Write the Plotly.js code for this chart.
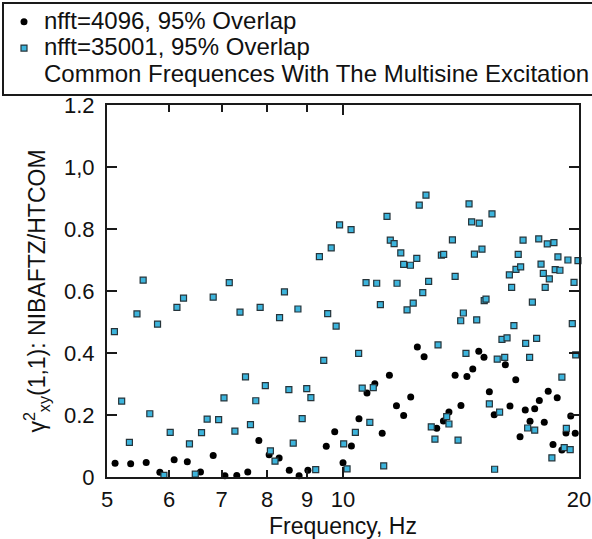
<!DOCTYPE html>
<html>
<head>
<meta charset="utf-8">
<script src="https://cdn.plot.ly/plotly-3.0.1.min.js"></script>
<style>
  html, body { margin: 0; padding: 0; background: #fff; }
  #chart { width: 592px; height: 539px; }
</style>
</head>
<body>
<div id="chart"></div>
<script>
// Series 1: nfft=4096, 95% Overlap (black dots)
const freqA = [5.12,5.36,5.61,5.84,6.09,6.33,6.58,6.83,7.07,7.32,
  7.56,7.81,8.05,8.29,8.54,8.79,9.02,9.52,9.76,10.0,
  10.25,10.48,10.73,10.98,11.22,11.46,11.70,11.95,12.20,12.44,
  12.69,13.17,13.43,13.65,13.90,14.14,14.39,14.64,14.90,15.13,
  15.37,15.59,16.11,16.33,16.61,16.82,17.08,17.32,17.56,17.80,
  18.06,18.27,18.53,18.76,19.02,19.25,19.52,19.78];
const cohA = [0.044,0.043,0.047,0.015,0.056,0.049,0.016,0.069,0.004,0.005,
  0.016,0.118,0.072,0.061,0.022,0.004,0.022,0.099,0.146,0.046,
  0.100,0.188,0.271,0.301,0.141,0.328,0.230,0.198,0.258,0.419,
  0.388,0.157,0.181,0.210,0.328,0.231,0.324,0.348,0.406,0.386,
  0.275,0.201,0.362,0.229,0.314,0.130,0.216,0.180,0.220,0.247,
  0.177,0.277,0.105,0.256,0.087,0.142,0.197,0.141];

// Series 2: nfft=35001, 95% Overlap (cyan squares)
const freqB = [5.11,5.22,5.34,5.46,5.56,5.67,5.80,5.91,6.02,6.14,
  6.26,6.37,6.48,6.60,6.71,6.83,6.94,7.05,7.16,7.28,
  7.39,7.51,7.62,7.74,7.84,7.96,8.08,8.19,8.30,8.42,
  8.53,8.64,8.76,8.87,8.99,9.10,9.23,9.33,9.45,9.56,
  9.66,9.80,9.90,10.02,10.12,10.24,10.37,10.47,10.58,10.70,
  10.82,10.93,11.04,11.16,11.27,11.38,11.49,11.62,11.72,11.85,
  11.95,12.07,12.19,12.29,12.42,12.51,12.64,12.76,12.86,12.96,
  13.10,13.22,13.35,13.44,13.56,13.65,13.79,13.90,14.02,14.13,
  14.24,14.35,14.48,14.59,14.71,14.81,14.92,15.04,15.14,15.22,
  15.37,15.49,15.61,15.73,15.84,15.95,16.08,16.19,16.30,16.41,
  16.52,16.62,16.73,16.85,16.97,17.10,17.20,17.30,17.44,17.56,
  17.66,17.77,17.89,18.01,18.11,18.22,18.33,18.47,18.58,18.65,
  18.80,18.91,19.02,19.15,19.27,19.36,19.49,19.61,19.71,19.81,
  19.94];
const cohB = [0.469,0.245,0.112,0.526,0.635,0.204,0.493,0.005,0.144,0.547,
  0.577,0.107,0.009,0.143,0.187,0.580,0.185,0.255,0.627,0.148,
  0.532,0.323,0.169,0.246,0.547,0.295,0.084,0.051,0.514,0.597,
  0.282,0.109,0.542,0.188,0.285,0.256,0.024,0.711,0.376,0.527,
  0.739,0.487,0.813,0.107,0.026,0.798,0.144,0.399,0.287,0.627,
  0.176,0.288,0.625,0.556,0.036,0.841,0.764,0.753,0.625,0.723,
  0.686,0.539,0.683,0.561,0.705,0.877,0.595,0.909,0.631,0.162,
  0.122,0.426,0.716,0.718,0.195,0.171,0.765,0.647,0.119,0.504,
  0.529,0.399,0.881,0.823,0.719,0.507,0.819,0.735,0.569,0.574,
  0.236,0.849,0.025,0.380,0.209,0.444,0.386,0.449,0.652,0.612,
  0.488,0.670,0.718,0.678,0.764,0.431,0.158,0.386,0.564,0.151,
  0.447,0.768,0.687,0.657,0.612,0.752,0.639,0.062,0.756,0.669,
  0.710,0.667,0.322,0.095,0.157,0.700,0.088,0.495,0.628,0.394,
  0.698];

const seriesNames = ["nfft=4096, 95% Overlap", "nfft=35001, 95% Overlap",
  "Common Frequences With The Multisine Excitation"];

const xTickVals = [5, 6, 7, 8, 9, 10, 20];
const xTickText = ["5", "6", "7", "8", "9", "10", "20"];
const yTickVals = [0, 0.2, 0.4, 0.6, 0.8, 1.0, 1.2];
const yTickText = ["0", "0.2", "0.4", "0.6", "0.8", "1,0", "1.2"];

const FONT = '"Liberation Sans", Arial, Helvetica, sans-serif';
const big = s => '<span style="font-size:24px">' + s + '</span>';
const NB = '\u00A0';

const traces = [
  {
    type: 'scatter', mode: 'markers', name: big(seriesNames[0]),
    x: freqA, y: cohA, cliponaxis: false,
    marker: { symbol: 'circle', size: 7, color: '#000000' }
  },
  {
    type: 'scatter', mode: 'markers', name: big(seriesNames[1]),
    x: freqB, y: cohB, cliponaxis: false,
    marker: { symbol: 'square', size: 6, color: '#3cb4dc',
              line: { color: '#26343a', width: 1.2 } }
  },
  {
    type: 'scatter', mode: 'markers', name: big(seriesNames[2]),
    x: [null], y: [null],
    marker: { size: 1, color: 'rgba(0,0,0,0)' }
  }
];

const axisCommon = {
  showgrid: false, zeroline: false, showline: true,
  linecolor: '#1a1a1a', linewidth: 2, mirror: 'ticks',
  ticks: 'inside', tickcolor: '#1a1a1a', tickwidth: 2,
  tickfont: { family: FONT, size: 22, color: '#111' }
};

const layout = {
  width: 592, height: 539,
  margin: { l: 107, r: 13, t: 105, b: 62, autoexpand: false },
  paper_bgcolor: '#ffffff', plot_bgcolor: '#ffffff',
  font: { family: FONT, color: '#111' },
  showlegend: true,
  legend: {
    x: -105 / 472, xanchor: 'left',
    y: (477 - 1.5) / 372, yanchor: 'top',
    bgcolor: '#ffffff', bordercolor: '#1a1a1a', borderwidth: 2,
    font: { family: FONT, size: 18, color: '#111' }
  },
  xaxis: Object.assign({}, axisCommon, {
    type: 'log',
    range: [Math.log10(5), Math.log10(20)],
    tickmode: 'array', tickvals: xTickVals, ticktext: xTickText,
    ticklen: 7,
    ticklabelstandoff: 2,
    minor: { tickmode: 'array', tickvals: [10], ticks: 'inside', ticklen: 10,
             tickwidth: 2, tickcolor: '#1a1a1a', showgrid: false },
    title: { text: 'Frequency, Hz', font: { family: FONT, size: 23, color: '#111' }, standoff: 9 }
  }),
  yaxis: Object.assign({}, axisCommon, {
    range: [0, 1.2],
    tickmode: 'array', tickvals: yTickVals, ticktext: yTickText,
    ticklen: 10,
    ticklabelstandoff: 6,
    title: { text: 'γ<sup>2</sup><sub>xy</sub>(1,1): NIBAFTZ/HTCOM' + NB + NB + NB + NB,
             font: { family: FONT, size: 23, color: '#111' }, standoff: 12 }
  })
};

Plotly.newPlot('chart', traces, layout, { displayModeBar: false, staticPlot: true });
</script>
</body>
</html>
